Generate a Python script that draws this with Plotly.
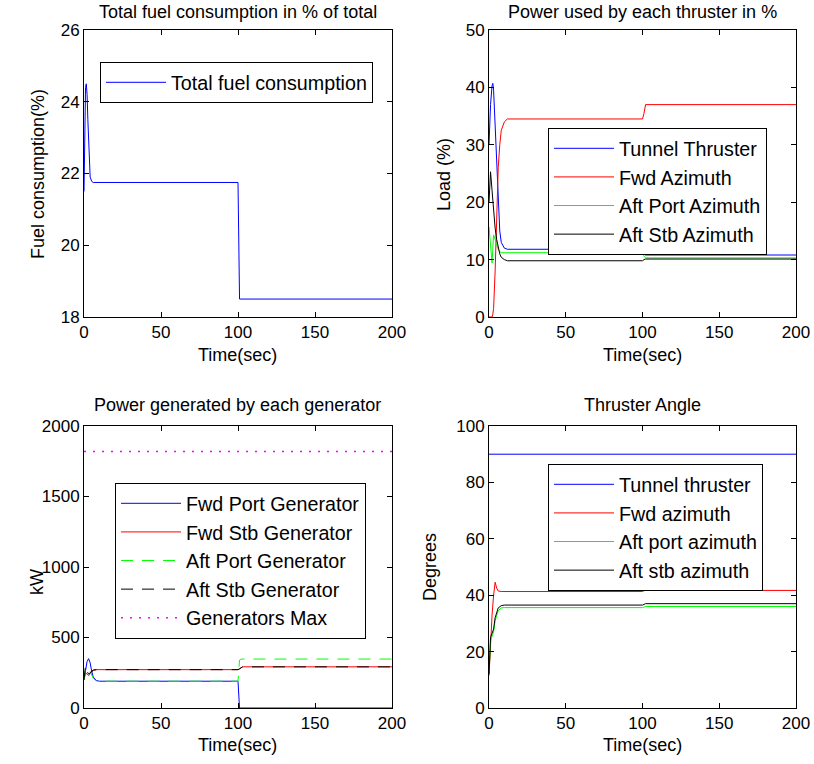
import plotly.graph_objects as go

# ---------------- data ----------------
# Top-left: total fuel consumption (%)
fuel_t = [0, 0.5, 1, 1.5, 2, 2.5, 3, 3.5, 4, 5, 6, 100, 101, 200]
fuel_v = [21.5, 23.5, 24.4, 24.5, 24.2, 23.5, 22.8, 22.2, 21.9, 21.78, 21.75, 21.75, 18.5, 18.5]

# Top-right: power used by each thruster (%)
thr_t = [0, 1, 2, 2.5, 3, 4, 5, 6, 7, 8, 10, 12, 100, 101, 102, 200]
tunnel_load = [30, 37, 40.3, 40.7, 39.5, 33, 25, 19, 15, 13, 12, 11.8, 11.8, 11.0, 10.8, 10.8]
fwd_az_load = [0, 0, 0, 0.5, 1.5, 8, 18, 26, 30, 32.5, 34, 34.5, 34.5, 35.5, 37, 37]
aftp_az_load = [15.7, 12, 9.4, 12, 14.3, 13.5, 12.5, 11.8, 11.4, 11.2, 11.2, 11.2, 11.2, 10.6, 10.3, 10.3]
afts_az_load = [20, 25.3, 22, 20, 18, 15.5, 13.5, 12, 11, 10.4, 10, 9.8, 9.8, 10.0, 10.1, 10.1]

# Bottom-left: power generated by each generator (kW)
gen_t = [0, 1, 2, 3, 4, 5, 6, 8, 10, 100, 101, 102, 103, 200]
fwd_port_gen = [200, 260, 330, 350, 320, 260, 220, 195, 190, 190, 0, 0, 0, 0]
fwd_stb_gen = [200, 250, 240, 230, 240, 255, 265, 272, 272, 272, 278, 287, 292, 292]
aft_port_gen = [200, 280, 300, 290, 260, 230, 210, 192, 190, 190, 340, 347, 347, 347]
aft_stb_gen = [200, 300, 260, 240, 250, 262, 270, 272, 272, 272, 278, 287, 292, 292]
gen_max_t = [0, 200]
gen_max = [1820, 1820]

# Bottom-right: thruster angle (degrees)
ang_t = [0, 1, 2, 3, 4, 5, 6, 8, 10, 100, 101, 102, 200]
tunnel_ang = [90, 90, 90, 90, 90, 90, 90, 90, 90, 90, 90, 90, 90]
fwd_az_ang = [11.5, 24, 33, 40, 44.6, 42.5, 41.5, 41.3, 41.3, 41.3, 41.6, 41.7, 41.7]
aftp_az_ang = [12, 24, 25.5, 27, 31, 33, 34.5, 35.5, 35.6, 35.6, 35.9, 36, 36]
afts_az_ang = [12, 25, 26.5, 28, 32, 34, 35.5, 36.3, 36.5, 36.5, 36.8, 37, 37]

x_ticks = [0, 50, 100, 150, 200]

# ---------------- figure ----------------
W, H = 814, 764
FONT = "Liberation Sans, Arial, sans-serif"
FS_TICK = 17
FS_LAB = 18
FS_LEG = 19.7

def px(x):
    return x / W

def py(y):
    return 1 - y / H

dom = {
    "x1": [px(84), px(392)],
    "x2": [px(489), px(796)],
    "y1": [py(317), py(30)],
    "y2": [py(708), py(426)],
}

fig = go.Figure()

def add(x, y, name, color, axis, legend, dash="solid", width=1):
    fig.add_trace(go.Scatter(
        x=x, y=y, name=name, mode="lines",
        line=dict(color=color, width=width, dash=dash),
        xaxis="x" + axis if axis != "1" else "x",
        yaxis="y" + axis if axis != "1" else "y",
        legend=legend, showlegend=True,
    ))

add(fuel_t, fuel_v, "Total fuel consumption", "#0000ff", "1", "legend")

add(thr_t, tunnel_load, "Tunnel Thruster", "#0000ff", "2", "legend2")
add(thr_t, fwd_az_load, "Fwd Azimuth", "#ff0000", "2", "legend2")
add(thr_t, aftp_az_load, "Aft Port Azimuth", "#00ff00", "2", "legend2")
add(thr_t, afts_az_load, "Aft Stb Azimuth", "#000000", "2", "legend2")

add(gen_t, fwd_port_gen, "Fwd Port Generator", "#0000ff", "3", "legend3")
add(gen_t, fwd_stb_gen, "Fwd Stb Generator", "#ff0000", "3", "legend3")
add(gen_t, aft_port_gen, "Aft Port Generator", "#00ff00", "3", "legend3", dash="12px,9px")
add(gen_t, aft_stb_gen, "Aft Stb Generator", "#000000", "3", "legend3", dash="12px,9px")
add(gen_max_t, gen_max, "Generators Max", "#ff00ff", "3", "legend3", dash="2px,7px", width=1.5)

add(ang_t, tunnel_ang, "Tunnel thruster", "#0000ff", "4", "legend4")
add(ang_t, fwd_az_ang, "Fwd azimuth", "#ff0000", "4", "legend4")
add(ang_t, aftp_az_ang, "Aft port azimuth", "#00ff00", "4", "legend4")
add(ang_t, afts_az_ang, "Aft stb azimuth", "#000000", "4", "legend4")

def xax(domain, anchor):
    return dict(domain=domain, anchor=anchor, range=[0, 200], tickvals=x_ticks,
                showline=True, linecolor="black", linewidth=1, mirror="ticks",
                ticks="inside", ticklen=5, tickcolor="black", showgrid=False,
                zeroline=False, automargin=False,
                tickfont=dict(size=FS_TICK, color="black"))

def yax(domain, anchor, rng, ticks):
    return dict(domain=domain, anchor=anchor, range=rng, tickvals=ticks,
                showline=True, linecolor="black", linewidth=1, mirror="ticks",
                ticks="inside", ticklen=5, tickcolor="black", showgrid=False,
                zeroline=False, automargin=False,
                tickfont=dict(size=FS_TICK, color="black"))

leg_common = dict(bgcolor="white", bordercolor="black", borderwidth=1,
                  font=dict(size=FS_LEG, color="black", family=FONT),
                  xanchor="left", yanchor="top", itemwidth=60)

fig.update_layout(
    width=W, height=H, autosize=False,
    margin=dict(l=0, r=0, t=0, b=0, pad=0),
    paper_bgcolor="white", plot_bgcolor="white",
    font=dict(family=FONT, size=FS_TICK, color="black"),
    xaxis=xax(dom["x1"], "y"),
    yaxis=yax(dom["y1"], "x", [18, 26], [18, 20, 22, 24, 26]),
    xaxis2=xax(dom["x2"], "y2"),
    yaxis2=yax(dom["y1"], "x2", [0, 50], [0, 10, 20, 30, 40, 50]),
    xaxis3=xax(dom["x1"], "y3"),
    yaxis3=yax(dom["y2"], "x3", [0, 2000], [0, 500, 1000, 1500, 2000]),
    xaxis4=xax(dom["x2"], "y4"),
    yaxis4=yax(dom["y2"], "x4", [0, 100], [0, 20, 40, 60, 80, 100]),
    legend=dict(x=px(100), y=py(62), **leg_common),
    legend2=dict(x=px(548), y=py(128), **leg_common),
    legend3=dict(x=px(115), y=py(483), **leg_common),
    legend4=dict(x=px(548), y=py(464), **leg_common),
)

def ann(text, x, y, angle=0):
    fig.add_annotation(text=text, x=px(x), y=py(y), xref="paper", yref="paper",
                       showarrow=False, textangle=angle,
                       xanchor="center", yanchor="middle",
                       font=dict(size=FS_LAB, color="black", family=FONT))

# titles
ann("Total fuel consumption in % of total", 238, 12)
ann("Power used by each thruster in %", 642, 12)
ann("Power generated by each generator", 238, 405)
ann("Thruster Angle", 642, 405)
# x labels
ann("Time(sec)", 238, 355)
ann("Time(sec)", 642, 355)
ann("Time(sec)", 238, 745)
ann("Time(sec)", 642, 745)
# y labels
ann("Fuel consumption(%)", 38, 174, -90)
ann("Load (%)", 444, 174, -90)
ann("kW", 37, 582, -90)
ann("Degrees", 430, 567, -90)

fig.write_html(
    "out.html",
    config={"displayModeBar": False},
    post_script="document.body.style.margin='0';document.body.style.overflow='hidden';",
)
